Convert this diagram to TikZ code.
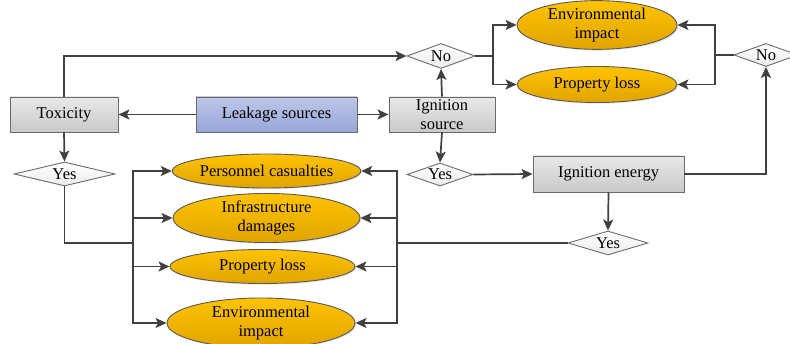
\documentclass[tikz,border=0pt]{standalone}
\usepackage{fontspec}
\setmainfont{Liberation Serif}
\usetikzlibrary{shapes.geometric,arrows.meta,shadows}
\definecolor{lc}{HTML}{404040}
\definecolor{bc}{HTML}{6A6A6A}
\tikzset{
  base/.style={font=\fontsize{16.5}{19.5}\selectfont, align=center, inner sep=0pt, draw=bc, line width=0.9pt},
  graybox/.style={base, rectangle, top color=gray!18, bottom color=gray!42, drop shadow={shadow xshift=1.2pt, shadow yshift=-1.2pt, opacity=0.25}},
  bluebox/.style={base, rectangle, top color={rgb,255:red,190;green,199;blue,232}, bottom color={rgb,255:red,152;green,166;blue,216}, drop shadow={shadow xshift=1.2pt, shadow yshift=-1.2pt, opacity=0.25}},
  goldell/.style={base, ellipse, top color={rgb,255:red,255;green,195;blue,0}, bottom color={rgb,255:red,224;green,164;blue,0}, draw=gray!70!black, drop shadow={shadow xshift=1.2pt, shadow yshift=-1.2pt, opacity=0.2}},
  dia/.style={base, diamond, shape aspect=3, top color=white, bottom color=gray!15, draw=gray!85!black},
  arr/.style={draw=lc, line width=1.7pt, -{Stealth[length=11pt,width=10pt,inset=2.5pt]}},
  ln/.style={draw=lc, line width=1.7pt}
}
\begin{document}
\begin{tikzpicture}[x=1pt,y=-1pt]
\useasboundingbox (0,0) rectangle (790,344);
% boxes
\node[graybox, minimum width=108pt, minimum height=35pt] (tox) at (64,114.5) {Toxicity};
\node[bluebox, minimum width=161pt, minimum height=35pt] (leak) at (276.5,114.5) {Leakage sources};
\node[graybox, minimum width=106pt, minimum height=35pt] (ign) at (442,114.5) {Ignition\\source};
\node[graybox, minimum width=151pt, minimum height=36pt] (ene) at (608.5,174) {Ignition energy};
% diamonds
\node[dia, minimum width=68pt, minimum height=25pt] (no1) at (441,56) {No};
\node[dia, minimum width=64pt, minimum height=23pt] (no2) at (766,55) {No};
\node[dia, minimum width=101pt, minimum height=24pt] (yes1) at (64.5,174) {Yes};
\node[dia, minimum width=66pt, minimum height=23pt] (yes2) at (440,174.5) {Yes};
\node[dia, minimum width=80pt, minimum height=24pt] (yes3) at (608,243) {Yes};
% ellipses
\node[goldell, minimum width=160pt, minimum height=44pt] (env1) at (597,25) {Environmental\\impact};
\node[goldell, minimum width=160pt, minimum height=36pt] (prop1) at (597,84.5) {Property loss};
\node[goldell, minimum width=187pt, minimum height=34pt] (pc) at (266.5,171) {Personnel casualties};
\node[goldell, minimum width=187pt, minimum height=37pt] (inf) at (266.5,218) {Infrastructure\\damages};
\node[goldell, minimum width=185pt, minimum height=34pt] (prop2) at (262.5,266.5) {Property loss};
\node[goldell, minimum width=188pt, minimum height=50pt] (env2) at (261,323) {Environmental\\impact};
% bus coordinates
\coordinate (busA) at (493,56);
\coordinate (busB) at (715,55);
\coordinate (busR) at (397,243);
\coordinate (busL) at (133,243);
% connectors
\draw[arr] (leak.west) -- (tox.east);
\draw[arr] (leak.east) -- (ign.west);
\draw[arr] (tox.north) |- (no1.west);
\draw[arr] (ign.north) -- (no1.south);
\draw[ln] (no1.east) -- (busA);
\draw[arr] (busA) |- (env1.west);
\draw[arr] (busA) |- (prop1.west);
\draw[ln] (no2.west) -- (busB);
\draw[arr] (busB) |- (env1.east);
\draw[arr] (busB) |- (prop1.east);
\draw[arr] (ene.east) -| (no2.south);
\draw[arr] (ign.south) -- (yes2.north);
\draw[arr] (yes2.east) -- (ene.west);
\draw[arr] (ene.south) -- (yes3.north);
\draw[ln] (yes3.west) -- (busR);
\draw[arr] (busR) |- (pc.east);
\draw[arr] (busR) |- (inf.east);
\draw[arr] (busR) |- (prop2.east);
\draw[arr] (busR) |- (env2.east);
\draw[arr] (tox.south) -- (yes1.north);
\draw[ln] (yes1.south) |- (busL);
\draw[arr] (busL) |- (pc.west);
\draw[arr] (busL) |- (inf.west);
\draw[arr] (busL) |- (prop2.west);
\draw[arr] (busL) |- (env2.west);
\end{tikzpicture}
\end{document}
